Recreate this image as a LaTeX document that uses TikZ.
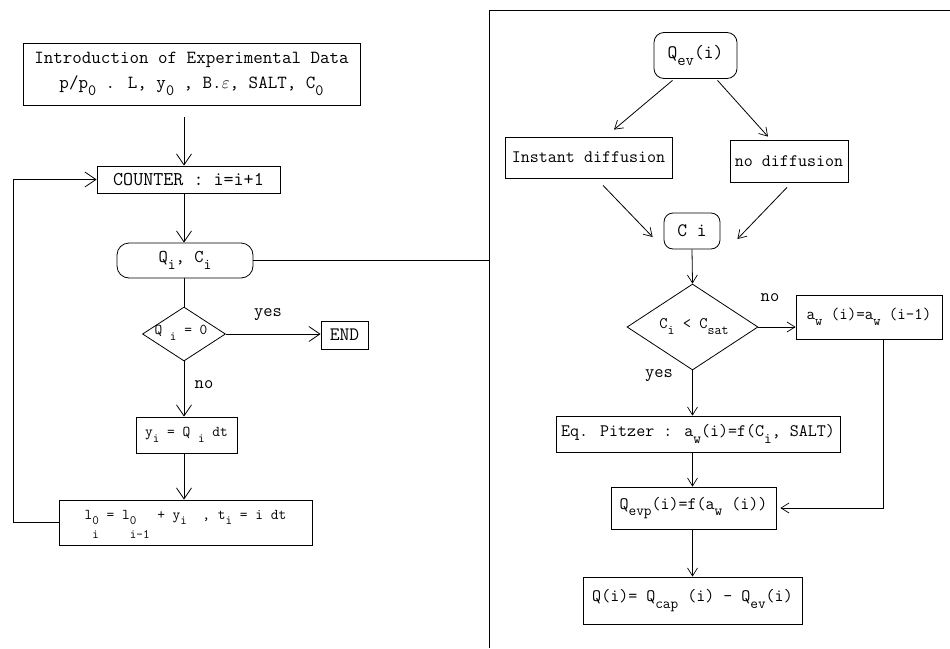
\documentclass[tikz,border=0pt]{standalone}
\usetikzlibrary{arrows.meta,shapes.geometric}
\newcommand\dn[1]{\raisebox{-0.38em}{\scalebox{0.85}{#1}}}
\newcommand\stk[2]{\raisebox{-0.38em}{\scalebox{0.85}{\begin{tabular}[t]{@{}l@{}}#1\\[0.05em]#2\end{tabular}}}}
\newcommand\fs[1]{\fontsize{#1}{#1}\selectfont}
\begin{document}
\begin{tikzpicture}[x=1pt,y=-1pt,
  font=\ttfamily\fs{17.5},
  ln/.style={line width=0.8pt},
  box/.style={draw,ln,inner sep=0pt},
  rbox/.style={box,rounded corners=12pt},
  dia/.style={draw,ln,diamond,inner sep=0pt},
  arr/.style={ln,-{Straight Barb[length=11pt,width=15pt,line width=0.8pt]}},
  sarr/.style={ln,-{Straight Barb[length=8pt,width=10pt,line width=0.7pt]}},
  lbl/.style={inner sep=0pt}
]
\useasboundingbox (0,0) rectangle (950,648);
% frame
\draw[ln] (489,648) -- (489,10) -- (950,10);
\coordinate (fr) at (489,0);
\coordinate (axL) at (184,0);
\coordinate (fb) at (13,0);
\coordinate (awx) at (883,0);

% left column
\node[box,minimum width=337pt,minimum height=62pt,align=center,font=\ttfamily\fontsize{18.5}{25}\selectfont] (intro) at (191.5,74)
  {Introduction of Experimental Data\\p/p\dn{0} . L, y\dn{0} , B.$\varepsilon$, SALT, C\dn{0}};
\node[box,minimum width=183pt,minimum height=27pt,font=\ttfamily\fs{19.5}] (cnt) at (188.5,179.5) {COUNTER : i=i+1};
\node[rbox,minimum width=136pt,minimum height=35pt,font=\ttfamily\fs{18}] (qc) at (185,260.5) {Q\dn{i}, C\dn{i}};
\node[dia,minimum width=83pt,minimum height=54pt] (d1) at (184,334) {};
\node[lbl,font=\ttfamily\fs{15}] (d1t) at (181,333) {Q \dn{i} = 0};
\node[box,minimum width=47pt,minimum height=28pt,font=\ttfamily\fs{19}] (end) at (344.5,335) {END};
\node[lbl,font=\ttfamily\fs{18}] (yes1) at (268,315) {yes};
\node[lbl,font=\ttfamily\fs{18}] (no1) at (204,385) {no};
\node[box,minimum width=101pt,minimum height=36pt,font=\ttfamily\fs{15}] (yi) at (186.5,435) {y\dn{i} = Q \dn{i} dt};
\node[box,minimum width=253pt,minimum height=45pt,text height=13pt,text depth=20pt,font=\ttfamily\fs{15}] (l0) at (185.5,522.5)
  {l\stk{0}{i} = l\stk{0}{i-1} + y\dn{i}\ \ , t\dn{i} = i dt};

\draw[arr,shorten <=12pt] (intro.south -| axL) -- (cnt.north -| axL);
\draw[arr] (cnt.south -| axL) -- (qc.north -| axL);
\draw[ln] (qc.south -| axL) -- (d1.north);
\draw[arr] (d1.east) -- (end.west |- d1);
\draw[arr] (d1.south) -- (yi.north -| d1);
\draw[arr] (yi.south -| d1) -- (l0.north -| d1);
\draw[arr] (l0.west) -- (l0.west -| fb) |- (cnt.west);
\draw[ln] (qc.east) -- (qc.east -| fr);

% right column
\node[rbox,rounded corners=10pt,minimum width=83pt,minimum height=46pt,font=\ttfamily\fs{19}] (qev) at (695.5,55.5) {Q\dn{ev}(i)};
\node[box,minimum width=167pt,minimum height=41pt] (inst) at (588.5,157.5) {Instant diffusion};
\node[box,minimum width=118pt,minimum height=42pt] (nod) at (789,161) {no diffusion};
\node[rbox,rounded corners=9pt,minimum width=56pt,minimum height=36pt,font=\ttfamily\fs{19}] (ci) at (692,231) {C i};
\node[dia,minimum width=131pt,minimum height=86pt] (d2) at (692.5,327) {};
\node[lbl,font=\ttfamily\fs{16}] (d2t) at (694,327) {C\dn{i} < C\dn{sat}};
\node[box,minimum width=146pt,minimum height=44pt,font=\ttfamily\fs{16.5}] (aw) at (869,317) {a\dn{w} (i)=a\dn{w} (i-1)};
\node[lbl,font=\ttfamily\fs{18}] (no2) at (770,298) {no};
\node[lbl,font=\ttfamily\fs{18}] (yes2) at (659,376) {yes};
\node[box,minimum width=284pt,minimum height=36pt] (pz) at (698,434) {Eq. Pitzer : a\dn{w}(i)=f(C\dn{i}, SALT)};
\node[box,minimum width=165pt,minimum height=42pt] (qevp) at (693.5,508) {Q\dn{evp}(i)=f(a\dn{w} (i))};
\node[box,minimum width=219pt,minimum height=47pt] (qq) at (692.5,600.5) {Q(i)= Q\dn{cap} (i) \textendash{} Q\dn{ev}(i)};

\draw[sarr] ([xshift=-23pt,yshift=-1.5pt]qev.south) -- ([xshift=25.5pt,yshift=7pt]inst.north);
\draw[sarr] ([xshift=22pt,yshift=-1.5pt]qev.south) -- ([xshift=-21pt,yshift=3pt]nod.north);
\draw[sarr] ([xshift=14.5pt,yshift=-7pt]inst.south) -- ([xshift=-11pt,yshift=-6pt]ci.west);
\draw[sarr] ([xshift=-2pt,yshift=-5pt]nod.south) -- ([xshift=17pt,yshift=-8pt]ci.east);
\draw[sarr] (ci.south) -- (d2.north);
\draw[sarr] (d2.east) -- (aw.west |- d2);
\draw[sarr] (d2.south) -- (pz.north -| d2);
\draw[sarr] (pz.south -| d2) -- (qevp.north -| d2);
\draw[sarr] (aw.south -| awx) |- ([xshift=4pt]qevp.east);
\draw[sarr] (qevp.south -| d2) -- (qq.north -| d2);
\end{tikzpicture}
\end{document}
